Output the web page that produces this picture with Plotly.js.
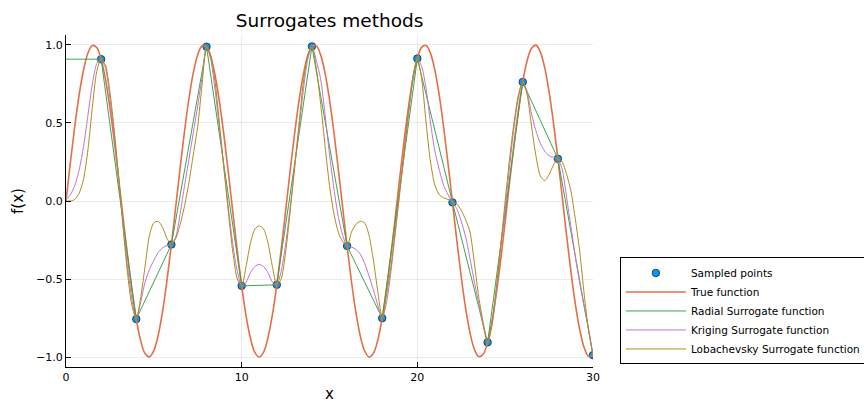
<!DOCTYPE html>
<html>
<head>
<meta charset="utf-8">
<script src="https://cdn.plot.ly/plotly-3.0.1.min.js"></script>
<style>html,body{margin:0;padding:0;background:#fff;}#chart{width:864px;height:403px;}</style>
</head>
<body>
<div id="chart"></div>
<script>
// Sampled points
const sampleX = [2,4,6,8,10,12,14,16,18,20,22,24,26,28,30];
const sampleY = [0.909,-0.757,-0.279,0.989,-0.544,-0.537,0.991,-0.288,-0.751,0.913,-0.009,-0.906,0.763,0.271,-0.988];

// Common x grid for the smooth curves (steps of 0.25 from 0 to 30)
const curveX = [0,0.25,0.5,0.75,1,1.25,1.5,1.75,2,2.25,2.5,2.75,3,3.25,3.5,3.75,4,4.25,4.5,4.75,5,5.25,5.5,5.75,6,6.25,6.5,6.75,7,7.25,7.5,7.75,8,8.25,8.5,8.75,9,9.25,9.5,9.75,10,10.25,10.5,10.75,11,11.25,11.5,11.75,12,12.25,12.5,12.75,13,13.25,13.5,13.75,14,14.25,14.5,14.75,15,15.25,15.5,15.75,16,16.25,16.5,16.75,17,17.25,17.5,17.75,18,18.25,18.5,18.75,19,19.25,19.5,19.75,20,20.25,20.5,20.75,21,21.25,21.5,21.75,22,22.25,22.5,22.75,23,23.25,23.5,23.75,24,24.25,24.5,24.75,25,25.25,25.5,25.75,26,26.25,26.5,26.75,27,27.25,27.5,27.75,28,28.25,28.5,28.75,29,29.25,29.5,29.75,30];

// True function
const trueY = [
  0,0.247,0.479,0.682,0.841,0.949,0.997,0.984,
  0.909,0.778,0.598,0.382,0.141,-0.108,-0.351,-0.572,
  -0.757,-0.895,-0.978,-0.999,-0.959,-0.859,-0.706,-0.508,
  -0.279,-0.033,0.215,0.450,0.657,0.824,0.938,0.995,
  0.989,0.922,0.798,0.624,0.412,0.174,-0.075,-0.320,
  -0.544,-0.735,-0.880,-0.970,-1.000,-0.968,-0.875,-0.729,
  -0.537,-0.311,-0.066,0.183,0.420,0.632,0.804,0.926,
  0.991,0.994,0.935,0.818,0.650,0.443,0.206,-0.042,
  -0.288,-0.516,-0.712,-0.864,-0.961,-1.000,-0.976,-0.891,
  -0.751,-0.564,-0.343,-0.099,0.150,0.390,0.605,0.784,
  0.913,0.986,0.997,0.946,0.837,0.675,0.471,0.238,
  -0.009,-0.256,-0.487,-0.688,-0.846,-0.952,-0.997,-0.982,
  -0.906,-0.772,-0.591,-0.373,-0.132,0.117,0.359,0.579,
  0.763,0.899,0.979,0.999,0.956,0.855,0.700,0.501,
  0.271,0.024,-0.223,-0.458,-0.664,-0.828,-0.941,-0.996,
  -0.988];

// Radial surrogate
const radialX = [0,2,4,6,8,10,12,14,16,18,20,22,24,26,28,30];
const radialY = [0.909,0.909,-0.757,-0.279,0.989,-0.544,-0.537,0.991,-0.288,-0.751,0.913,-0.009,-0.906,0.763,0.271,-0.988];

// Kriging surrogate
const krigingY = [
  0.01,0.04,0.1,0.2,0.35,0.55,0.75,0.88,
  0.909,0.85,0.66,0.42,0.14,-0.15,-0.42,-0.63,
  -0.757,-0.65,-0.52,-0.44,-0.38,-0.33,-0.30,-0.285,
  -0.279,-0.23,-0.08,0.1,0.27,0.44,0.61,0.8,
  0.989,0.9,0.7,0.45,0.2,-0.05,-0.28,-0.45,
  -0.544,-0.52,-0.46,-0.42,-0.406,-0.42,-0.46,-0.52,
  -0.537,-0.45,-0.28,-0.05,0.2,0.45,0.7,0.9,
  0.991,0.9,0.78,0.55,0.3,0.08,-0.1,-0.22,
  -0.288,-0.295,-0.31,-0.34,-0.4,-0.48,-0.57,-0.67,
  -0.751,-0.65,-0.45,-0.2,0.05,0.3,0.55,0.78,
  0.913,0.86,0.72,0.5,0.32,0.2,0.1,0.04,
  -0.009,-0.05,-0.13,-0.23,-0.37,-0.52,-0.66,-0.8,
  -0.906,-0.8,-0.58,-0.3,-0.05,0.22,0.47,0.66,
  0.763,0.7,0.56,0.45,0.37,0.32,0.29,0.28,
  0.271,0.2,0.02,-0.17,-0.36,-0.53,-0.68,-0.82,
  -0.988];

// Lobachevsky surrogate
const lobachevskyY = [
  0,0.0,0.01,0.05,0.14,0.33,0.6,0.83,
  0.909,0.87,0.7,0.45,0.15,-0.17,-0.46,-0.67,
  -0.757,-0.62,-0.42,-0.22,-0.14,-0.13,-0.17,-0.24,
  -0.279,-0.24,-0.15,-0.03,0.12,0.3,0.48,0.75,
  0.989,0.93,0.75,0.48,0.2,-0.08,-0.33,-0.5,
  -0.544,-0.42,-0.27,-0.18,-0.16,-0.18,-0.27,-0.42,
  -0.537,-0.5,-0.33,-0.08,0.2,0.48,0.75,0.93,
  0.991,0.85,0.62,0.35,0.1,-0.08,-0.2,-0.26,
  -0.288,-0.2,-0.15,-0.13,-0.14,-0.22,-0.38,-0.58,
  -0.751,-0.6,-0.42,-0.18,0.07,0.33,0.58,0.8,
  0.913,0.78,0.5,0.25,0.1,0.04,0.02,0.01,
  -0.009,-0.02,-0.06,-0.12,-0.2,-0.4,-0.62,-0.78,
  -0.906,-0.78,-0.55,-0.28,0.0,0.27,0.5,0.68,
  0.763,0.68,0.48,0.29,0.16,0.13,0.17,0.23,
  0.271,0.25,0.17,0.06,-0.12,-0.33,-0.6,-0.83,
  -0.988];

const xTicks = [0,10,20,30];
const yTicks = [-1.0,-0.5,0.0,0.5,1.0];
const yTickText = ['\u22121.0','\u22120.5','0.0','0.5','1.0'];

const FONT = 'DejaVu Sans, sans-serif';

const traces = [
  {x: sampleX, y: sampleY, type: 'scatter', mode: 'markers', name: 'Sampled points',
   marker: {color: '#009AFA', size: 7.5, line: {color: '#222', width: 0.8}}},
  {x: curveX, y: trueY, type: 'scatter', mode: 'lines', name: 'True function',
   line: {color: '#E36F47', width: 1.6, shape: 'spline', smoothing: 1}},
  {x: radialX, y: radialY, type: 'scatter', mode: 'lines', name: 'Radial Surrogate function',
   line: {color: '#3EA44E', width: 1}},
  {x: curveX, y: krigingY, type: 'scatter', mode: 'lines', name: 'Kriging Surrogate function',
   line: {color: '#C371D2', width: 1, shape: 'spline', smoothing: 0.7}},
  {x: curveX, y: lobachevskyY, type: 'scatter', mode: 'lines', name: 'Lobachevsky Surrogate function',
   line: {color: '#AC8D18', width: 1, shape: 'spline', smoothing: 0.7}}
];

const layout = {
  width: 864, height: 403,
  margin: {l: 66, r: 271, t: 35, b: 36, pad: 0, autoexpand: false},
  paper_bgcolor: '#fff', plot_bgcolor: '#fff',
  font: {family: FONT, color: '#000'},
  title: {text: 'Surrogates methods', font: {family: FONT, size: 18.5, color: '#000'},
          x: 0.3815, xanchor: 'center', y: 0.95, yanchor: 'middle'},
  xaxis: {
    range: [0, 30], tickvals: xTicks, ticktext: xTicks.map(String),
    showgrid: true, gridcolor: 'rgba(0,0,0,0.08)', gridwidth: 1,
    zeroline: false, showline: true, linecolor: '#000', linewidth: 1, mirror: false,
    ticks: 'inside', ticklen: 5, tickcolor: '#000', tickwidth: 1,
    tickfont: {family: FONT, size: 11, color: '#000'},
    automargin: true,
    title: {text: 'x', font: {family: FONT, size: 15, color: '#000'}, standoff: 12}
  },
  yaxis: {
    range: [-1.064, 1.064], tickvals: yTicks, ticktext: yTickText,
    showgrid: true, gridcolor: 'rgba(0,0,0,0.08)', gridwidth: 1,
    zeroline: false, showline: true, linecolor: '#000', linewidth: 1, mirror: false,
    ticks: 'inside', ticklen: 5, tickcolor: '#000', tickwidth: 1,
    tickfont: {family: FONT, size: 11, color: '#000'},
    title: {text: 'f(x)', font: {family: FONT, size: 15, color: '#000'}, standoff: 8}
  },
  showlegend: true,
  legend: {
    x: 1.051, xanchor: 'left', y: 0.33, yanchor: 'top',
    bgcolor: '#fff', bordercolor: '#000', borderwidth: 1,
    font: {family: FONT, size: 10.5, color: '#000'},
    itemwidth: 60, tracegroupgap: 0
  }
};

Plotly.newPlot('chart', traces, layout, {displayModeBar: false, staticPlot: true});
</script>
</body>
</html>
